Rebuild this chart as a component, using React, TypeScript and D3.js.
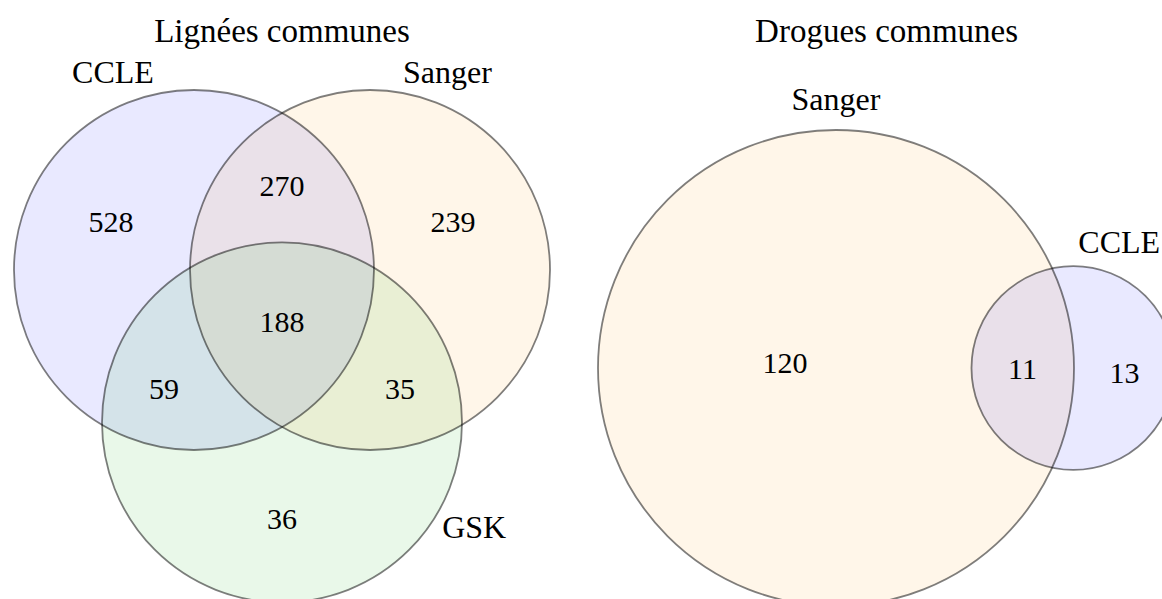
import React, { useRef, useEffect } from 'react';
import * as d3 from 'd3';

const width = 1162;
const height = 599;

// Lignées communes : 3 sets, region codes = membership (CCLE, Sanger, GSK)
const lineTitle = 'Lignées communes';
const lineSets = ['CCLE', 'Sanger', 'GSK'];
const lineRegions = ['100', '010', '110', '001', '101', '011', '111'];
const lineCounts = [528, 239, 270, 36, 59, 35, 188];

// Drogues communes : 2 sets, region codes = membership (Sanger, CCLE)
const drugTitle = 'Drogues communes';
const drugSets = ['Sanger', 'CCLE'];
const drugRegions = ['10', '01', '11'];
const drugCounts = [120, 13, 11];

const setColors: Record<string, string> = {
  CCLE: '#0000ff',
  Sanger: '#ff9900',
  GSK: '#00b000',
};

const font = "'Liberation Serif', 'Times New Roman', serif";

type Circle = { name: string; x: number; y: number; r: number };

// lens area of two circles
function overlapArea(r1: number, r2: number, d: number) {
  if (d >= r1 + r2) return 0;
  if (d <= Math.abs(r1 - r2)) return Math.PI * Math.min(r1, r2) ** 2;
  const a = r1 * r1 * Math.acos((d * d + r1 * r1 - r2 * r2) / (2 * d * r1));
  const b = r2 * r2 * Math.acos((d * d + r2 * r2 - r1 * r1) / (2 * d * r2));
  const c = 0.5 * Math.sqrt((-d + r1 + r2) * (d + r1 - r2) * (d - r1 + r2) * (d + r1 + r2));
  return a + b - c;
}

// point of the region farthest from its borders (label anchor)
function labelPoint(circles: Circle[], code: string) {
  const inside = code.split('').map(c => c === '1');
  const inC = circles.filter((c, i) => inside[i]);
  const x0 = d3.max(inC, c => c.x - c.r)!;
  const x1 = d3.min(inC, c => c.x + c.r)!;
  const y0 = d3.max(inC, c => c.y - c.r)!;
  const y1 = d3.min(inC, c => c.y + c.r)!;
  let best = [0, 0];
  let bestD = -Infinity;
  for (let x = x0; x <= x1; x += 1) {
    for (let y = y0; y <= y1; y += 1) {
      let m = Infinity;
      circles.forEach((c, i) => {
        const dist = Math.hypot(x - c.x, y - c.y);
        const s = inside[i] ? c.r - dist : dist - c.r;
        if (s < m) m = s;
      });
      if (m > bestD) {
        bestD = m;
        best = [x, y];
      }
    }
  }
  return best;
}

const App = () => {
  const svgRef = useRef<SVGSVGElement>(null);

  useEffect(() => {
    const svg = d3.select(svgRef.current);
    svg.selectAll('*').remove();

    // ---- left: unweighted 3-set layout (equal circles on a triangle)
    const unit = d3.scaleLinear().domain([-1, 1]).range([102, 462]);
    const r3 = unit(1) - unit(0);
    const spread = 0.978; // centre distance / radius
    const cy3 = 270;
    const lineCircles: Circle[] = [
      { name: lineSets[0], x: unit(-spread / 2), y: cy3, r: r3 },
      { name: lineSets[1], x: unit(spread / 2), y: cy3, r: r3 },
      { name: lineSets[2], x: unit(0), y: cy3 + spread * r3 * Math.sqrt(3) / 2, r: r3 },
    ];

    // ---- right: area-weighted 2-set layout
    const total0 = drugCounts[0] + drugCounts[2];
    const total1 = drugCounts[1] + drugCounts[2];
    const rScale = d3.scaleSqrt().domain([0, total0]).range([0, 238]);
    const ra = rScale(total0);
    const rb = rScale(total1);
    const target = Math.PI * rScale(1) ** 2 * drugCounts[2];
    let lo = Math.abs(ra - rb);
    let hi = ra + rb;
    for (let i = 0; i < 60; i++) {
      const mid = (lo + hi) / 2;
      if (overlapArea(ra, rb, mid) > target) lo = mid;
      else hi = mid;
    }
    const dist = (lo + hi) / 2;
    const cx2 = 836;
    const cy2 = 368;
    const drugCircles: Circle[] = [
      { name: drugSets[0], x: cx2, y: cy2, r: ra },
      { name: drugSets[1], x: cx2 + dist, y: cy2, r: rb },
    ];

    const drawVenn = (circles: Circle[], regions: string[], counts: number[], title: string) => {
      const g = svg.append('g');

      g.selectAll('circle.fill')
        .data(circles)
        .enter()
        .append('circle')
        .attr('class', 'fill')
        .attr('cx', d => d.x)
        .attr('cy', d => d.y)
        .attr('r', d => d.r)
        .attr('fill', d => setColors[d.name])
        .attr('fill-opacity', 0.085)
        .attr('stroke', 'none');

      g.selectAll('circle.edge')
        .data(circles)
        .enter()
        .append('circle')
        .attr('class', 'edge')
        .attr('cx', d => d.x)
        .attr('cy', d => d.y)
        .attr('r', d => d.r)
        .attr('fill', 'none')
        .attr('stroke', '#000')
        .attr('stroke-opacity', 0.5)
        .attr('stroke-width', 1.8);

      regions.forEach((code, i) => {
        const [x, y] = labelPoint(circles, code);
        g.append('text')
          .attr('x', x)
          .attr('y', y)
          .attr('text-anchor', 'middle')
          .attr('dominant-baseline', 'central')
          .attr('font-family', font)
          .attr('font-size', 30)
          .attr('fill', '#000')
          .text(counts[i]);
      });

      const xMin = d3.min(circles, c => c.x - c.r)!;
      const xMax = d3.max(circles, c => c.x + c.r)!;
      g.append('text')
        .attr('x', (xMin + xMax) / 2)
        .attr('y', 42)
        .attr('text-anchor', 'middle')
        .attr('font-family', font)
        .attr('font-size', 33)
        .attr('fill', '#000')
        .text(title);
      return g;
    };

    const gl = drawVenn(lineCircles, lineRegions, lineCounts, lineTitle);
    const gr = drawVenn(drugCircles, drugRegions, drugCounts, drugTitle);

    // set labels
    const setLabel = (g: any, txt: string, x: number, y: number, anchor: string) => {
      g.append('text')
        .attr('x', x)
        .attr('y', y)
        .attr('text-anchor', anchor)
        .attr('font-family', font)
        .attr('font-size', 32)
        .attr('fill', '#000')
        .text(txt);
    };
    const [a, b, c] = lineCircles;
    setLabel(gl, a.name, a.x - 0.45 * a.r, a.y - a.r - 7, 'middle');
    setLabel(gl, b.name, b.x + 0.43 * b.r, b.y - b.r - 7, 'middle');
    setLabel(gl, c.name, c.x + 0.89 * c.r, c.y + 0.64 * c.r, 'start');
    const [s, k] = drugCircles;
    setLabel(gr, s.name, s.x, s.y - s.r - 20, 'middle');
    setLabel(gr, k.name, k.x + 0.45 * k.r, k.y - k.r - 13, 'middle');
  }, []);

  return (
    <svg
      ref={svgRef}
      width={width}
      height={height}
      style={{ position: 'absolute', left: 0, top: 0, background: '#fff' }}
    />
  );
};

export default App;
